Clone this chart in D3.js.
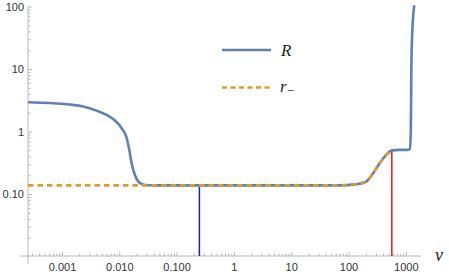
<!DOCTYPE html>
<html>
<head>
<meta charset="utf-8">
<script src="https://cdn.jsdelivr.net/npm/d3@7"></script>
<style>
  html, body { margin: 0; padding: 0; background: #fff; }
  svg { display: block; }
  .tick text { font-family: "Liberation Sans", Arial, sans-serif; font-size: 11px; fill: #333; }
</style>
</head>
<body>
<svg id="chart" width="449" height="274"></svg>
<script>
// ---- data ----
const rV = [0.000255, 0.000618, 0.00138, 0.00235, 0.00403, 0.0060, 0.0084, 0.0110, 0.0134, 0.0150, 0.0164, 0.0188, 0.0229, 0.028, 0.04, 1, 70, 129, 158, 206, 269, 352, 431, 563, 787, 1084, 1175, 1224, 1249, 1300, 1408];
const rVal = [2.95, 2.86, 2.70, 2.52, 2.16, 1.85, 1.50, 1.13, 0.80, 0.50, 0.31, 0.20, 0.15, 0.14, 0.138, 0.138, 0.138, 0.143, 0.147, 0.16, 0.216, 0.313, 0.40, 0.497, 0.51, 0.51, 0.53, 1.06, 9.7, 42, 105];
const rmV = [0.000255, 70, 129, 158, 206, 269, 352, 431, 563, 570];
const rmVal = [0.138, 0.138, 0.143, 0.147, 0.16, 0.216, 0.313, 0.40, 0.497, 0.5];
const markerV = [0.25, 570];
const markerTop = [0.138, 0.51];
const xTicks = [0.001, 0.01, 0.1, 1, 10, 100, 1000];
const xTickLabels = ["0.001", "0.010", "0.100", "1", "10", "100", "1000"];
const yTicks = [0.1, 1, 10, 100];
const yTickLabels = ["0.10", "1", "10", "100"];
const seriesNames = ["R", "r"];

// ---- layout ----
const svg = d3.select("#chart");
const x = d3.scaleLog().domain([Math.pow(10, -3.593), Math.pow(10, 3.265)]).range([28, 421]);
const y = d3.scaleLog().domain([0.01, 100]).range([256.6, 6.5]);
const axisColor = "#b8b8b8";
const blue = "#5E81B5";
const orange = "#E19C24";

// minor ticks
function minorTicks(scale) {
  const [a, b] = scale.domain();
  const out = [];
  for (let e = Math.floor(Math.log10(a)); e <= Math.ceil(Math.log10(b)); e++) {
    for (let m = 2; m <= 9; m++) {
      const v = m * Math.pow(10, e);
      if (v >= a && v <= b) out.push(v);
    }
  }
  return out;
}

// x axis
const xAxisG = svg.append("g").attr("transform", "translate(0,256)");
xAxisG.call(d3.axisBottom(x).tickValues(xTicks)
  .tickFormat((d, i) => xTickLabels[i]).tickSizeInner(-4).tickSizeOuter(0).tickPadding(7));
xAxisG.select(".domain").remove();
xAxisG.selectAll(".tick line").attr("stroke", axisColor);
xAxisG.selectAll(".tick text").attr("dy", "0.71em");
const xMinor = svg.append("g").attr("transform", "translate(0,256)");
xMinor.call(d3.axisBottom(x).tickValues(minorTicks(x)).tickFormat("").tickSizeInner(-2.5).tickSizeOuter(0));
xMinor.select(".domain").remove();
xMinor.selectAll(".tick line").attr("stroke", axisColor);
svg.append("line").attr("x1", 20).attr("x2", 421).attr("y1", 256).attr("y2", 256)
  .attr("stroke", axisColor).attr("stroke-width", 1);

// y axis
const yAxisG = svg.append("g").attr("transform", "translate(28,0)");
yAxisG.call(d3.axisLeft(y).tickValues(yTicks)
  .tickFormat((d, i) => yTickLabels[i]).tickSizeInner(-4).tickSizeOuter(0).tickPadding(4));
yAxisG.select(".domain").remove();
yAxisG.selectAll(".tick line").attr("stroke", axisColor);
const yMinor = svg.append("g").attr("transform", "translate(28,0)");
yMinor.call(d3.axisLeft(y).tickValues(minorTicks(y)).tickFormat("").tickSizeInner(-2.5).tickSizeOuter(0));
yMinor.select(".domain").remove();
yMinor.selectAll(".tick line").attr("stroke", axisColor);
svg.append("line").attr("x1", 28).attr("x2", 28).attr("y1", 6.5).attr("y2", 264)
  .attr("stroke", axisColor).attr("stroke-width", 1);

// vertical markers
const markerColors = ["#1a1ae6", "#f01414"];
svg.selectAll(".marker").data(markerV).enter().append("line")
  .attr("x1", d => x(d)).attr("x2", d => x(d))
  .attr("y1", 256).attr("y2", (d, i) => y(markerTop[i]))
  .attr("stroke", (d, i) => markerColors[i]).attr("stroke-width", 1.5);

// curves
const line = d3.line().x(d => x(d[0])).y(d => y(d[1])).curve(d3.curveMonotoneX);
svg.append("path").datum(rV.map((v, i) => [v, rVal[i]]))
  .attr("d", line).attr("fill", "none").attr("stroke", blue).attr("stroke-width", 2.6);
svg.append("path").datum(rmV.map((v, i) => [v, rmVal[i]]))
  .attr("d", line).attr("fill", "none").attr("stroke", orange).attr("stroke-width", 2.6)
  .attr("stroke-dasharray", "5.5,4");

// legend
const lg = svg.append("g");
lg.append("line").attr("x1", 222).attr("x2", 271).attr("y1", 50).attr("y2", 50)
  .attr("stroke", blue).attr("stroke-width", 2.6);
lg.append("line").attr("x1", 222).attr("x2", 271).attr("y1", 87.5).attr("y2", 87.5)
  .attr("stroke", orange).attr("stroke-width", 2.6).attr("stroke-dasharray", "5,3.5");
lg.append("text").attr("x", 281).attr("y", 56)
  .attr("font-family", "'Liberation Serif', 'Times New Roman', serif").attr("font-style", "italic")
  .attr("font-size", 17).attr("fill", "#222").text(seriesNames[0]);
const t2 = lg.append("text").attr("x", 280).attr("y", 92)
  .attr("font-family", "'Liberation Serif', 'Times New Roman', serif").attr("font-style", "italic")
  .attr("font-size", 17).attr("fill", "#222");
t2.append("tspan").text(seriesNames[1]);
t2.append("tspan").attr("font-size", 13).attr("font-style", "normal").attr("dy", 3).text("\u2212");

// axis label
svg.append("text").attr("x", 435).attr("y", 261)
  .attr("font-family", "'Liberation Serif', 'Times New Roman', serif").attr("font-style", "italic")
  .attr("font-size", 18).attr("fill", "#222").text("v");
</script>
</body>
</html>
